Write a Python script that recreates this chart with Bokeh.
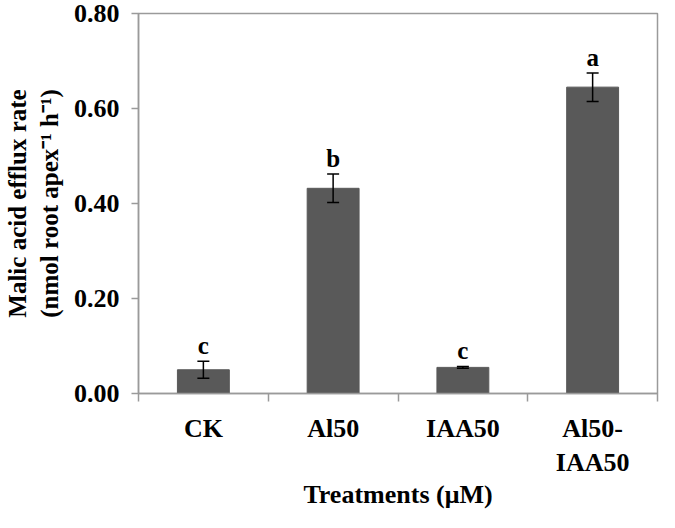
from bokeh.plotting import figure
from bokeh.models import FixedTicker, Range1d, ColumnDataSource, Whisker, NumeralTickFormatter, TeeHead
from bokeh.embed import file_html
from bokeh.resources import INLINE

# data
treatments = ["CK", "Al50", "IAA50", "Al50-\nIAA50"]
rate = [0.050, 0.432, 0.055, 0.645]
err = [0.018, 0.030, 0.002, 0.030]
letters = ["c", "b", "c", "a"]
y_ticks = [0.0, 0.2, 0.4, 0.6, 0.8]

FONT = "Liberation Serif"
GREY = "#9a9a9a"

xs = [i + 0.5 for i in range(len(treatments))]
src = ColumnDataSource(data=dict(
    x=xs, rate=rate, err=err, letters=letters,
    lo=[r - e for r, e in zip(rate, err)],
    hi=[r + e for r, e in zip(rate, err)],
))

p = figure(width=659, height=512, output_backend="svg", toolbar_location=None,
           x_range=Range1d(0, 4), y_range=Range1d(0, 0.8),
           min_border_left=128, min_border_right=2, min_border_top=13, min_border_bottom=100)

p.vbar(x="x", top="rate", width=0.4, source=src, fill_color="#595959", line_color="#595959")

whisk = Whisker(base="x", upper="hi", lower="lo", source=src, line_color="black", line_width=1.5,
                upper_head=TeeHead(size=12, line_width=1.5, line_color="black"),
                lower_head=TeeHead(size=12, line_width=1.5, line_color="black"))
whisk.level = "overlay"
p.add_layout(whisk)

p.text(x="x", y="hi", text="letters", source=src, text_align="center", text_baseline="bottom",
       y_offset=-2, text_font={"value": FONT}, text_font_style="bold", text_font_size="25px",
       text_color="black")

p.xgrid.visible = False
p.ygrid.visible = False
p.outline_line_color = GREY
p.outline_line_width = 1.5

# x axis: labels at category centres, tick marks at category boundaries
xa = p.xaxis[0]
xa.ticker = FixedTicker(ticks=xs, minor_ticks=[0, 1, 2, 3, 4])
xa.major_label_overrides = {x: t for x, t in zip(xs, treatments)}
xa.major_tick_out = 0
xa.major_tick_in = 0
xa.minor_tick_out = 8
xa.minor_tick_in = 0
xa.minor_tick_line_color = GREY
xa.minor_tick_line_width = 1.5
xa.axis_line_color = GREY
xa.axis_line_width = 1.5
xa.major_label_standoff = 12
xa.axis_label = "Treatments (μM)"
xa.axis_label_standoff = 0

ya = p.yaxis[0]
ya.ticker = FixedTicker(ticks=y_ticks, minor_ticks=[])
ya.formatter = NumeralTickFormatter(format="0.00")
ya.major_tick_out = 7
ya.major_tick_in = 0
ya.major_tick_line_color = GREY
ya.major_tick_line_width = 1.5
ya.axis_line_color = GREY
ya.axis_line_width = 1.5
ya.major_label_standoff = 12
ya.axis_label = "Malic acid efflux rate\n(nmol root apex⁻¹ h⁻¹)"
ya.axis_label_standoff = 8

for ax in (xa, ya):
    ax.major_label_text_font = FONT
    ax.major_label_text_font_style = "bold"
    ax.major_label_text_font_size = "26px"
    ax.major_label_text_color = "black"
    ax.axis_label_text_font = FONT
    ax.axis_label_text_font_style = "bold"
    ax.axis_label_text_font_size = "26px"
    ax.axis_label_text_color = "black"

ya.major_label_text_font_size = "26px"
ya.axis_label_text_font_size = "25px"

open("out.html", "w").write(file_html(p, INLINE))
